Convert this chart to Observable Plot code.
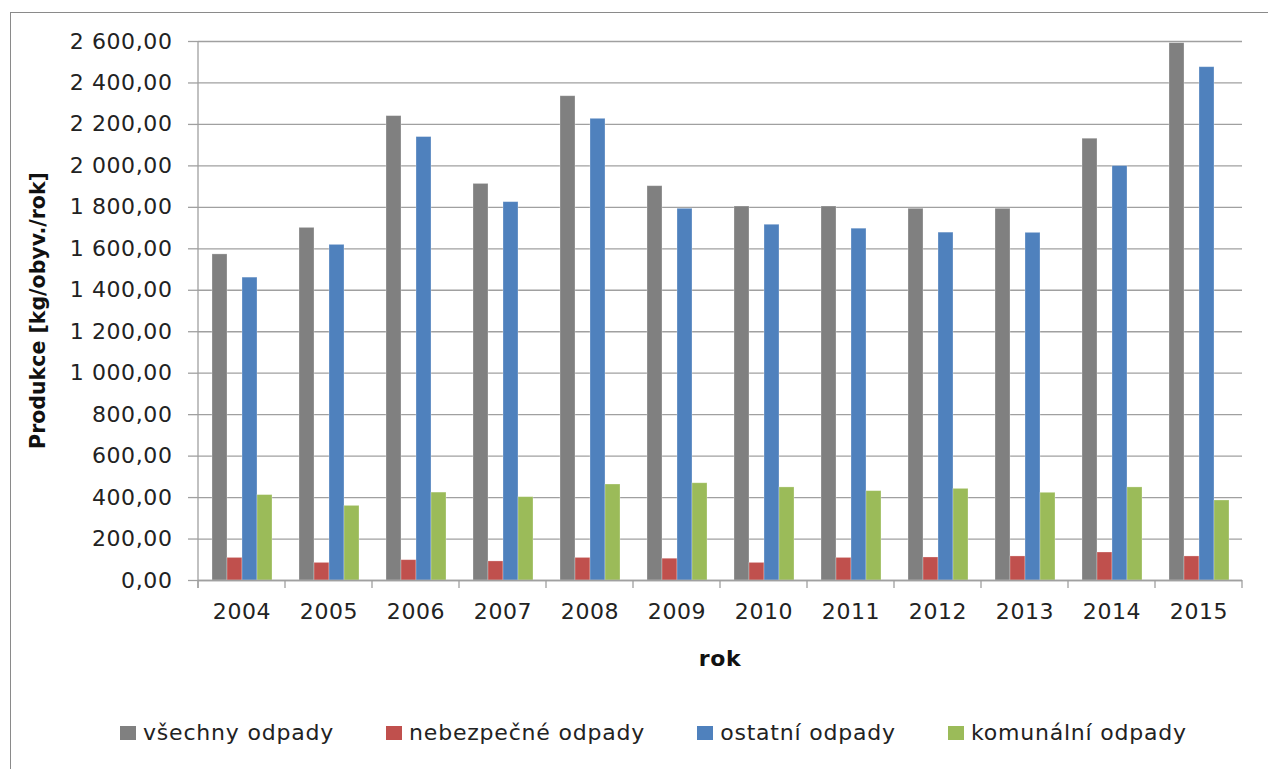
<!DOCTYPE html>
<html>
<head>
<meta charset="utf-8">
<script src="https://cdn.jsdelivr.net/npm/d3@7"></script>
<script src="https://cdn.jsdelivr.net/npm/@observablehq/plot@0.6"></script>
<style>
  html, body { margin: 0; padding: 0; background: #fff; overflow: hidden; }
  #wrap { position: relative; width: 1268px; height: 769px; overflow: hidden; font-family: "DejaVu Sans", sans-serif; }
  #border { position: absolute; left: 10px; top: 12px; width: 1300px; height: 800px; border: 1.5px solid #8a8a8a; box-sizing: border-box; }
  #chart { position: absolute; left: 0; top: 0; }
  #legend { position: absolute; left: 120px; top: 720px; display: flex; gap: 52px; align-items: center; font-size: 22px; letter-spacing: 0.8px; color: #222; }
  .item { display: flex; align-items: center; white-space: nowrap; }
  .sw { width: 16px; height: 14px; margin-right: 7px; }
</style>
</head>
<body>
<div id="wrap">
  <div id="border"></div>
  <div id="chart"></div>
  <div id="legend"></div>
</div>
<script>
const years = ["2004","2005","2006","2007","2008","2009","2010","2011","2012","2013","2014","2015"];
const series = ["všechny odpady","nebezpečné odpady","ostatní odpady","komunální odpady"];
const colors = ["#808080","#C0504D","#4F81BD","#9BBB59"];
const vsechny    = [1573,1701,2240,1913,2336,1902,1804,1804,1793,1793,2131,2592];
const nebezpecne = [ 109,  85,  98,  92, 109, 105,  85, 109, 111, 116, 135, 116];
const ostatni    = [1461,1619,2139,1825,2227,1793,1716,1697,1678,1677,1999,2476];
const komunalni  = [ 412, 360, 424, 402, 463, 469, 449, 431, 442, 423, 449, 386];
const yTicks = [0,200,400,600,800,1000,1200,1400,1600,1800,2000,2200,2400,2600];
const yLabel = "Produkce [kg/obyv./rok]";
const xLabel = "rok";

const seriesValues = [vsechny, nebezpecne, ostatni, komunalni];
const data = years.flatMap((yr, i) => series.map((s, j) => ({year: yr, series: s, value: seriesValues[j][i]})));

const fmt = d3.formatLocale({decimal: ",", thousands: "\u00a0", grouping: [3], currency: ["", ""]}).format(",.2f");

const gridColor = "#a0a0a0";

const plot = Plot.plot({
  width: 1268,
  height: 700,
  marginTop: 41,
  marginBottom: 120,
  marginLeft: 193,
  marginRight: 21,
  style: {fontFamily: "DejaVu Sans", fontSize: "22px", color: "#222", background: "transparent", letterSpacing: "0.6px"},
  fx: {domain: years, padding: 0, label: null},
  x: {domain: series, paddingInner: 0, paddingOuter: 0.76, axis: null},
  y: {domain: [0, 2600], label: null},
  color: {domain: series, range: colors},
  marks: [
    Plot.gridY(yTicks, {stroke: gridColor, strokeOpacity: 1, strokeWidth: 1.3}),
    Plot.barY(data, {fx: "year", x: "series", y: "value", fill: "series", stroke: "#fff", strokeOpacity: 0.35, strokeWidth: 0.8}),
    Plot.ruleY([0], {stroke: gridColor, strokeWidth: 1.3}),
    Plot.axisY(yTicks, {tickFormat: fmt, tickSize: 10, tickPadding: 16, stroke: gridColor, strokeWidth: 1.3, strokeOpacity: 1, fill: "#222", label: null}),
    Plot.axisFx({anchor: "bottom", tickSize: 0, tickPadding: 23, fill: "#222", label: null})
  ]
});

document.getElementById("chart").appendChild(plot);

// extra axis decorations using the plot's own scales
const fxS = plot.scale("fx");
const yS = plot.scale("y");
const svg = d3.select(plot);
const y0 = yS.apply(0), yTop = yS.apply(yTicks[yTicks.length - 1]);
const bounds = years.map(yr => fxS.apply(yr));
bounds.push(fxS.apply(years[years.length - 1]) + fxS.bandwidth);
const g = svg.append("g").attr("stroke", gridColor).attr("stroke-width", 1.3);
g.append("line").attr("x1", bounds[0]).attr("x2", bounds[0]).attr("y1", yTop).attr("y2", y0 + 8);
bounds.forEach(b => g.append("line").attr("x1", b).attr("x2", b).attr("y1", y0).attr("y2", y0 + 8));

svg.append("text")
  .attr("transform", `translate(38,${(y0 + yTop) / 2}) rotate(-90)`)
  .attr("text-anchor", "middle").attr("dominant-baseline", "central")
  .attr("font-weight", "bold").attr("font-size", "20.5px").attr("fill", "#111")
  .attr("letter-spacing", "0px")
  .text(yLabel);

svg.append("text")
  .attr("x", (bounds[0] + bounds[bounds.length - 1]) / 2).attr("y", 658)
  .attr("text-anchor", "middle").attr("dominant-baseline", "central")
  .attr("font-weight", "bold").attr("font-size", "22px").attr("fill", "#111")
  .text(xLabel);

// legend
const legend = d3.select("#legend");
series.forEach((s, i) => {
  const it = legend.append("div").attr("class", "item");
  it.append("div").attr("class", "sw").style("background", colors[i]);
  it.append("span").text(s);
});
</script>
</body>
</html>
